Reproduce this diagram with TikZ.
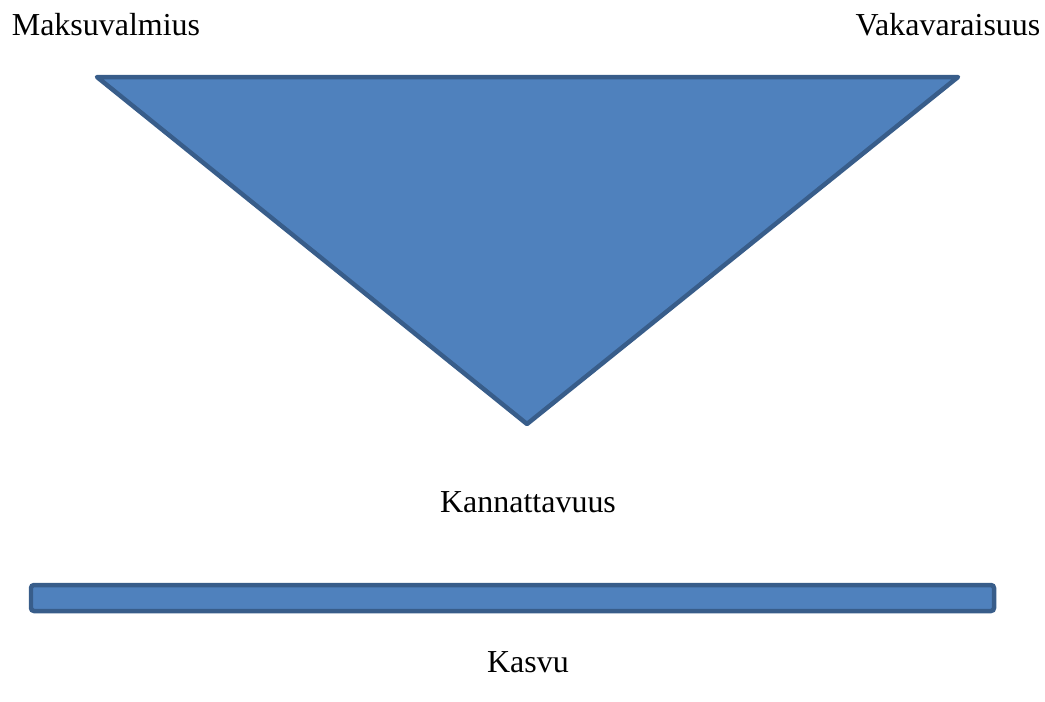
\documentclass[tikz,border=0pt]{standalone}
\usepackage{fontspec}
\setmainfont{Liberation Serif}
\usepackage{tikz}
\usetikzlibrary{positioning}
\definecolor{shapefill}{HTML}{4F81BD}
\definecolor{shapeline}{HTML}{385D8A}

\begin{document}
\begin{tikzpicture}[x=0.02cm,y=-0.02cm]
	\tikzstyle{caption}=[anchor=base,inner sep=0pt,font=\fontsize{18.2}{22}\selectfont]
	\tikzstyle{blueshape}=[fill=shapefill,draw=shapeline,line width=0.09cm]
	\useasboundingbox (0,0) rectangle (1045,701);
		\coordinate (tl) at (97,77);
		\coordinate (tr) at (958,77);
		\coordinate (tb) at (527,424);
			\draw[blueshape,line join=round] (tl) -- (tr) -- (tb) -- cycle;
		\node[caption] (maksu) at (106,35) {Maksuvalmius};
		\node[caption] (vaka) at (948,35) {Vakavaraisuus};
		\node[caption] (kann) at (528,512) {Kannattavuus};
		\coordinate (bl) at (31,585);
		\coordinate (br) at (994,611);
			\draw[blueshape,rounded corners=0.06cm] (bl) rectangle (br);
		\node[caption] (kasvu) at (528,672) {Kasvu};
\end{tikzpicture}
\end{document}
